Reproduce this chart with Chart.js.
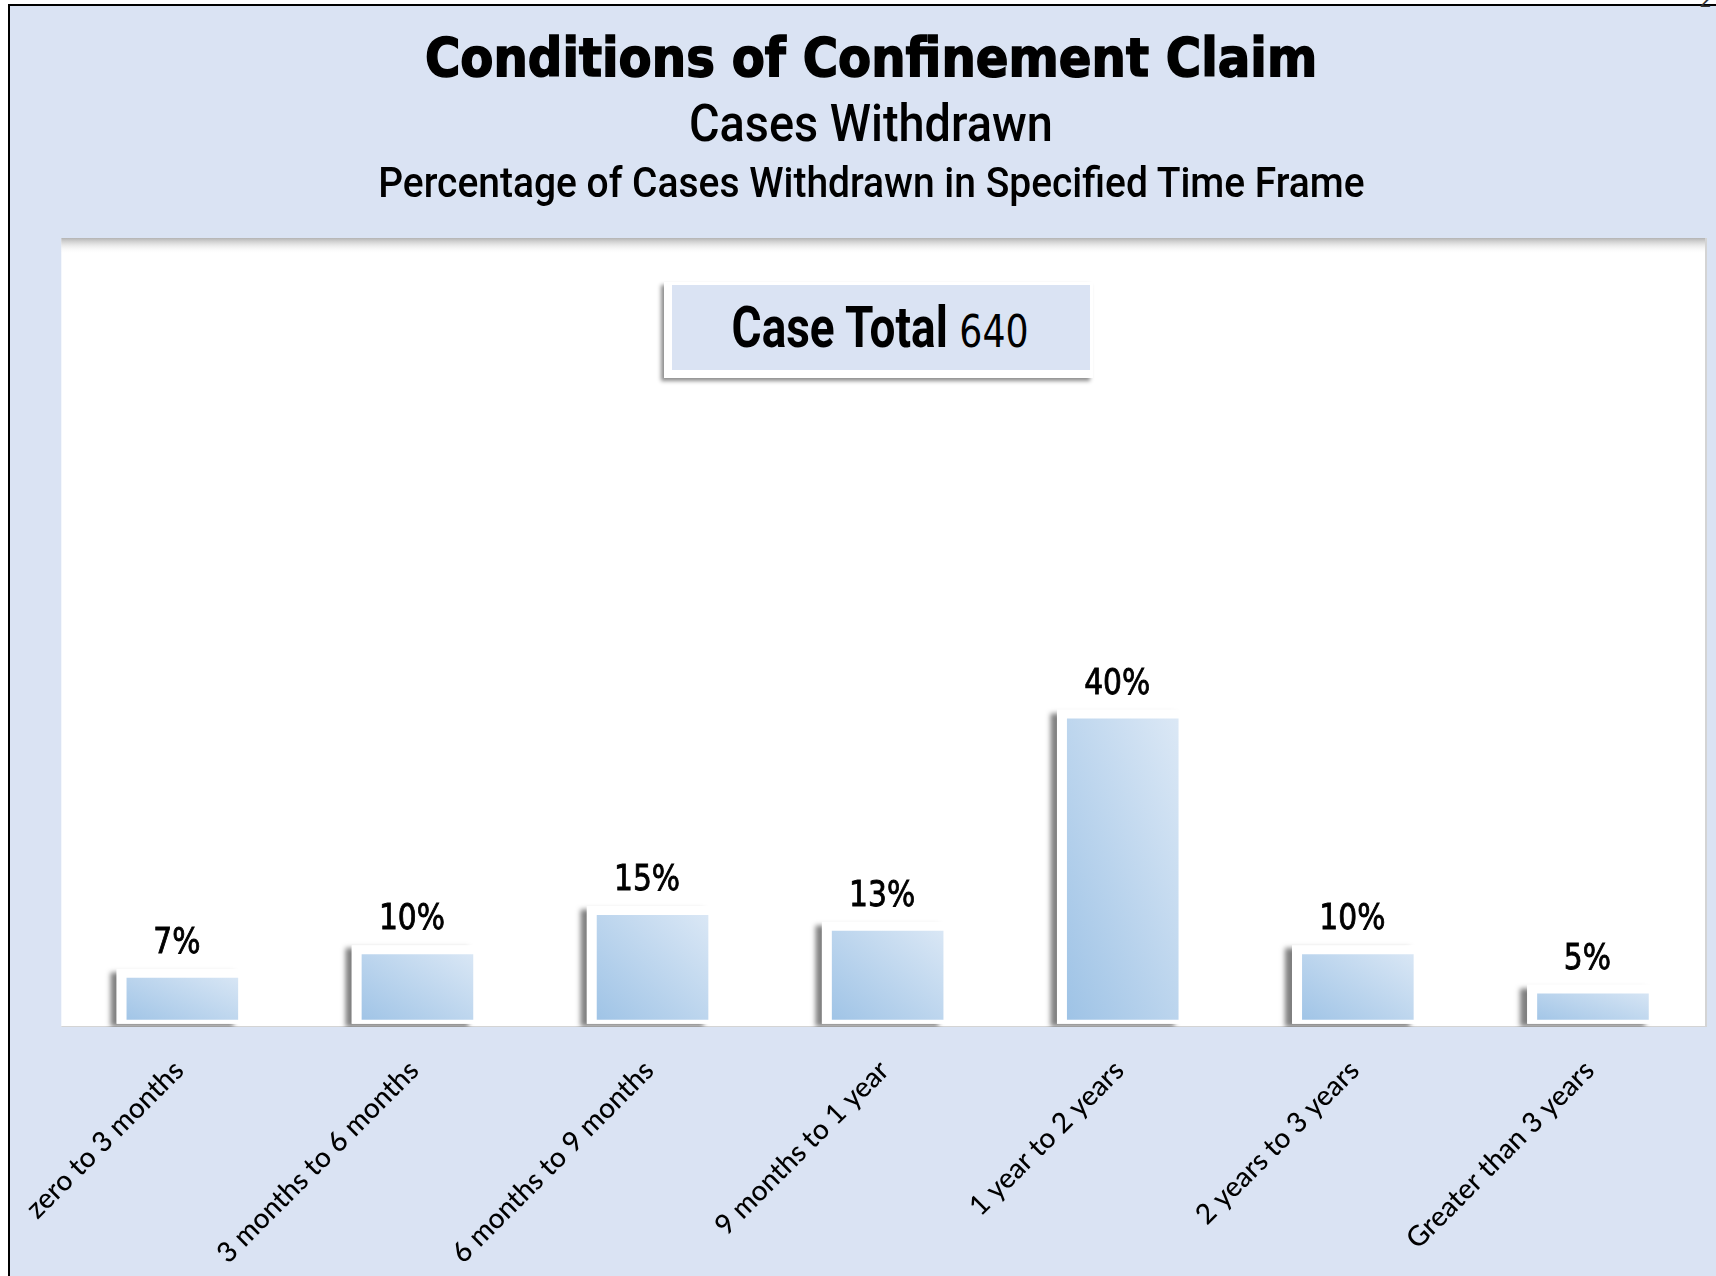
<!DOCTYPE html>
<html>
<head>
<meta charset="utf-8">
<script src="https://cdn.jsdelivr.net/npm/chart.js@4.4.1/dist/chart.umd.min.js"></script>
<style>
  html, body { margin: 0; padding: 0; background: #fff; }
  body { width: 1716px; height: 1276px; position: relative; overflow: hidden; }
  #frame { position: absolute; left: 8px; top: 4px; right: 0; bottom: 0; background: #dae3f3;
           border-left: 2px solid #000; border-top: 2px solid #000; }
  #c { position: absolute; left: 0; top: 0; }
  .line { position: absolute; left: 13px; width: 1716px; text-align: center; white-space: nowrap; color: #000; }
  .line span.fit { display: inline-block; transform-origin: center top; }
  #t1 { top: 31px; font: bold 54px/54px "DejaVu Sans", sans-serif; -webkit-text-stroke: 1.6px #000; }
  #t2 { top: 98px; font: 500 52px/52px Roboto, "Liberation Sans", sans-serif; }
  #t3 { top: 161px; font: 500 43px/43px Roboto, "Liberation Sans", sans-serif; }
  #boxOuter { position: absolute; left: 664px; top: 282px; width: 429px; height: 96px; background: #fff;
              box-shadow: -3px 3px 4px rgba(0,0,0,0.45); }
  #boxInner { position: absolute; left: 672px; top: 285px; width: 418px; height: 85px; background: #dae3f3; }
  #tot { top: 299px; left: 22px; font: bold 57px/57px Roboto, "Liberation Sans", sans-serif; }
  #tot .num { font: 45px "DejaVu Sans", sans-serif; -webkit-text-stroke: 0; }
  #pg { position: absolute; right: 4px; top: -12px; font: 20px "DejaVu Sans", sans-serif; color: #333; }
</style>
</head>
<body>
<div id="frame"></div>
<span id="pg">2</span>
<canvas id="c" width="1716" height="1276"></canvas>
<div class="line" id="t1"><span class="fit" data-w="892">Conditions of Confinement Claim</span></div>
<div class="line" id="t2"><span class="fit" data-w="364">Cases Withdrawn</span></div>
<div class="line" id="t3"><span class="fit" data-w="986">Percentage of Cases Withdrawn in Specified Time Frame</span></div>
<div id="boxOuter"></div>
<div id="boxInner"></div>
<div class="line" id="tot"><span class="fit" data-w="297">Case Total <span class="num">640</span></span></div>

<script>
// chart data
const categories = ['zero to 3 months', '3 months to 6 months', '6 months to 9 months', '9 months to 1 year',
                    '1 year to 2 years', '2 years to 3 years', 'Greater than 3 years'];
const percentWithdrawn = [7, 10, 15, 13, 40, 10, 5];

const barPct = 0.53;

// squeeze the headings to the widths they have in the original
document.querySelectorAll('.fit').forEach(el => {
    const target = +el.dataset.w;
    const w = el.getBoundingClientRect().width;
    el.style.transform = 'scaleX(' + (target / w).toFixed(3) + ')';
});

const panelPlugin = {
    id: 'panel',
    beforeDraw(chart) {
        const { ctx, chartArea: a } = chart;
        ctx.save();
        ctx.fillStyle = '#fff';
        ctx.fillRect(a.left, a.top, a.right - a.left, a.bottom - a.top);
        // soft grey shadow along the top edge of the plot area
        const g = ctx.createLinearGradient(0, a.top, 0, a.top + 16);
        g.addColorStop(0, 'rgba(160,160,160,0.8)');
        g.addColorStop(1, 'rgba(255,255,255,0)');
        ctx.fillStyle = g;
        ctx.fillRect(a.left, a.top, a.right - a.left, 16);
        ctx.fillStyle = '#d4d4d4';
        ctx.fillRect(a.right - 2, a.top, 2, a.bottom - a.top);
        ctx.fillRect(a.left, a.bottom - 1, a.right - a.left, 1);
        ctx.restore();
    },
    beforeDatasetsDraw(chart) {
        // drop shadow to the left of each bar
        const { ctx, chartArea: a } = chart;
        ctx.save();
        ctx.beginPath();
        ctx.rect(a.left, a.top, a.right - a.left, a.bottom - a.top);
        ctx.clip();
        ctx.shadowColor = 'rgba(0,0,0,0.5)';
        ctx.shadowBlur = 5;
        ctx.shadowOffsetX = -7;
        ctx.shadowOffsetY = 3;
        ctx.fillStyle = '#fff';
        chart.getDatasetMeta(0).data.forEach(bar => {
            const { x, y, base, width } = bar.getProps(['x', 'y', 'base', 'width'], true);
            ctx.fillRect(x - width / 2, y, width, base - y);
        });
        ctx.restore();
    },
    afterDatasetsDraw(chart) {
        // value labels above the bars
        const { ctx } = chart;
        ctx.save();
        ctx.font = '35px "DejaVu Sans", sans-serif';
        ctx.fillStyle = '#000';
        ctx.strokeStyle = '#000';
        ctx.lineWidth = 0.9;
        ctx.textAlign = 'center';
        ctx.textBaseline = 'alphabetic';
        chart.getDatasetMeta(0).data.forEach((bar, i) => {
            const { x, y } = bar.getProps(['x', 'y'], true);
            ctx.save();
            ctx.translate(x - 2, y - 16);
            ctx.scale(0.85, 1);
            ctx.fillText(percentWithdrawn[i] + '%', 0, 0);
            ctx.strokeText(percentWithdrawn[i] + '%', 0, 0);
            ctx.restore();
        });
        ctx.restore();
    }
};

// diagonal shading: dark at bottom-left, light at top-right, even along the other diagonal
function barGradient(context) {
    const chart = context.chart;
    const a = chart.chartArea;
    if (!a || context.type !== 'data') return '#b4d0ec';
    const cx = chart.scales.x.getPixelForValue(context.dataIndex);
    const w = (a.right - a.left) / categories.length * barPct;
    const h = Math.max(1, a.bottom - chart.scales.y.getPixelForValue(context.raw));
    const k = 2 * w * h / (w * w + h * h);
    const x0 = cx - w / 2, y0 = a.bottom;
    const g = chart.ctx.createLinearGradient(x0, y0, x0 + h * k, y0 - w * k);
    g.addColorStop(0, '#9bc1e5');
    g.addColorStop(1, '#dde9f6');
    return g;
}

new Chart(document.getElementById('c'), {
    type: 'bar',
    data: {
        labels: categories,
        datasets: [{
            data: percentWithdrawn,
            backgroundColor: barGradient,
            borderColor: '#fff',
            borderWidth: { top: 9, left: 10, right: 3, bottom: 4 },
            borderSkipped: false,
            categoryPercentage: 1,
            barPercentage: barPct
        }]
    },
    plugins: [panelPlugin],
    options: {
        responsive: false,
        animation: false,
        layout: { padding: { left: 58, right: 9, top: 238, bottom: 0 } },
        plugins: { legend: { display: false }, tooltip: { enabled: false } },
        scales: {
            x: {
                grid: { display: false, drawTicks: false },
                border: { display: false },
                ticks: {
                    color: '#000',
                    font: { family: 'Lato', size: 28, weight: '500' },
                    minRotation: 45,
                    maxRotation: 45,
                    autoSkip: false,
                    padding: 27
                },
                afterFit(scale) { scale.height = 249; }
            },
            y: { display: false, min: -0.4, max: 100 }
        }
    }
});
</script>
</body>
</html>
